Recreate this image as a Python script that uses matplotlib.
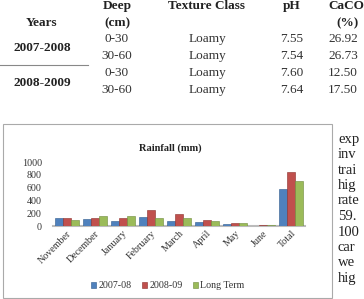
import numpy as np
import matplotlib
matplotlib.use('Agg')
from matplotlib import pyplot as plt
from matplotlib.patches import Rectangle

# Rainfall data (mm)
months = ['November', 'December', 'January', 'February', 'March',
          'April', 'May', 'June', 'Total']
rain_0708 = [125, 115, 85, 140, 80, 60, 25, 5, 580]
rain_0809 = [130, 120, 125, 250, 185, 95, 45, 12, 850]
rain_long = [100, 160, 150, 120, 120, 80, 40, 15, 700]
series_names = ['2007-08', '2008-09', 'Long Term']
colors = ['#4F81BD', '#C0504D', '#9BBB59']
edges = ['#2E5A8C', '#8C2D2A', '#6E8B3A']

# Soil table shown above the chart
tbl_years = ['2007-2008', '2008-2009']
tbl_deep = ['0-30', '30-60', '0-30', '30-60']
tbl_texture = ['Loamy', 'Loamy', 'Loamy', 'Loamy']
tbl_ph = ['7.55', '7.54', '7.60', '7.64']
tbl_caco = ['26.92', '26.73', '12.50', '17.50']

# Fragment of body text to the right of the chart
side_words = ['exp', 'inv', 'trai', 'hig', 'rate', '59.', '100',
              'car', 'we', 'hig']

W, H = 364, 299
fig = plt.figure(figsize=(W/100, H/100), dpi=100)
serif = 'Liberation Serif'

def fx(px):
    return px / W

def fy(py):
    return 1 - py / H

# ---- table ----
tsz = 9.5
def hdr(px, py, s, ha='center'):
    fig.text(fx(px), fy(py), s, ha=ha, va='center', family=serif,
             weight='bold', fontsize=tsz, color='#222222')

hdr(42, 23, 'Years')
hdr(117, 6, 'Deep')
hdr(117, 23, '(cm)')
hdr(207, 6, 'Texture Class')
hdr(292, 6, 'pH')
hdr(328, 6, 'CaCO', ha='left')
hdr(336, 23, '(%)', ha='left')

row_y = [39, 56, 73, 90]
for i, yy in enumerate(row_y):
    fig.text(fx(117), fy(yy), tbl_deep[i], ha='center', va='center',
             family=serif, fontsize=tsz, color='#333333')
    fig.text(fx(207), fy(yy), tbl_texture[i], ha='center', va='center',
             family=serif, fontsize=tsz, color='#333333')
    fig.text(fx(292), fy(yy), tbl_ph[i], ha='center', va='center',
             family=serif, fontsize=tsz, color='#333333')
    fig.text(fx(328), fy(yy), tbl_caco[i], ha='left', va='center',
             family=serif, fontsize=tsz, color='#333333')
hdr(42, 48, tbl_years[0])
hdr(42, 83, tbl_years[1])
fig.add_artist(plt.Line2D([0, fx(88)], [fy(65), fy(65)], color='#888888',
                          lw=0.8))

# ---- chart frame ----
fig.add_artist(Rectangle((fx(3), fy(298)), fx(329), fy(124) - fy(298),
                         transform=fig.transFigure, fill=False,
                         edgecolor='#AAAAAA', lw=0.8))

ax = fig.add_axes([fx(53), fy(226), fx(252), fy(162) - fy(226)])
x = np.arange(len(months))
bw = 0.29
for k, vals in enumerate([rain_0708, rain_0809, rain_long]):
    ax.bar(x + (k - 1) * bw, vals, bw, color=colors[k], edgecolor=edges[k],
           lw=0.4, label=series_names[k], zorder=3)

csz = 7.2
ax.set_xlim(-0.5, len(months) - 0.5)
ax.set_ylim(0, 1000)
ax.set_yticks([0, 200, 400, 600, 800, 1000])
ax.tick_params(axis='y', length=0, labelsize=csz, pad=8, colors='#333333')
ax.tick_params(axis='x', length=0, labelsize=csz, pad=2, colors='#333333')
for lab in ax.get_yticklabels():
    lab.set_family(serif)
ax.set_xticks(x)
ax.set_xticklabels(months, rotation=45, ha='right', rotation_mode='anchor',
                   family=serif)
for s in ['top', 'right', 'left']:
    ax.spines[s].set_visible(False)
ax.spines['bottom'].set_color('#BBBBBB')
ax.spines['bottom'].set_linewidth(1.5)
ax.patch.set_alpha(0)

fig.text(fx(170), fy(148), 'Rainfall (mm)', ha='center', va='center',
         family=serif, weight='bold', fontsize=7.5, color='#222222')

fig.legend(loc='center', bbox_to_anchor=(fx(168), fy(286)), ncol=3,
           frameon=False, prop={'family': serif, 'size': csz},
           handlelength=0.5, handleheight=0.5, handletextpad=0.25,
           columnspacing=1.0, labelcolor='#333333')

# ---- body text fragment ----
for i, w in enumerate(side_words):
    fig.text(fx(338), fy(139 + i * 15.5), w, ha='left', va='center',
             family=serif, fontsize=10.5, color='#222222')

fig.savefig('out.png', dpi=100)
